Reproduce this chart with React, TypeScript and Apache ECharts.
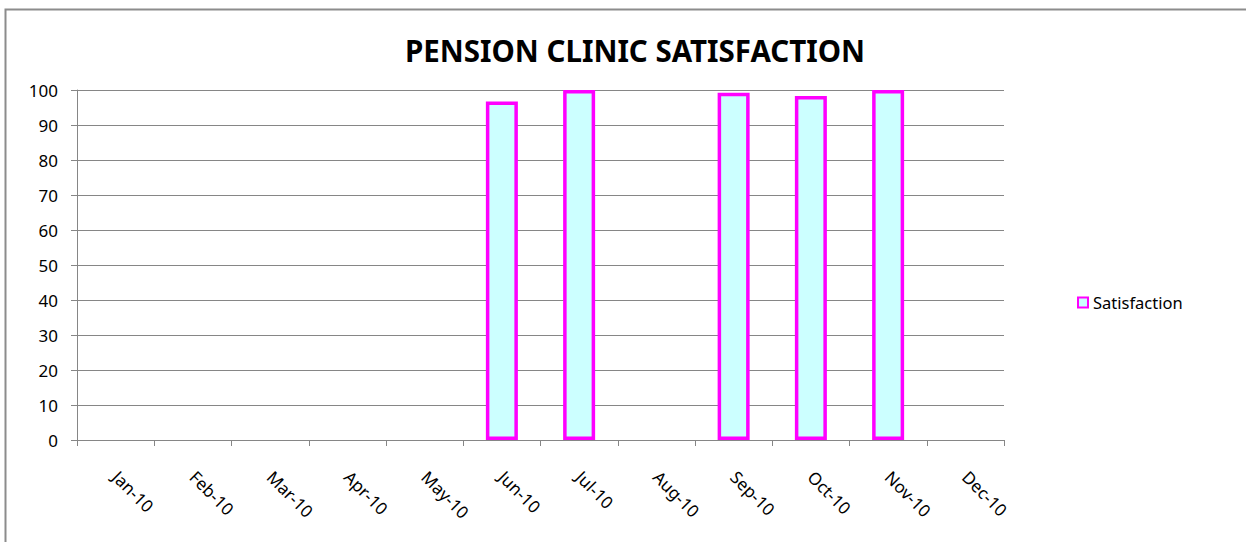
import React, { useEffect, useRef } from "react";
import * as echarts from "echarts";

const months = [
  "Jan-10", "Feb-10", "Mar-10", "Apr-10", "May-10", "Jun-10",
  "Jul-10", "Aug-10", "Sep-10", "Oct-10", "Nov-10", "Dec-10",
];
// Satisfaction score per month; months without a survey are null
const satisfaction: (number | null)[] = [
  null, null, null, null, null, 96.7, 100, null, 99.2, 98.3, 100, null,
];

const FONT = "'Noto Sans', sans-serif";
const GRID_GREY = "#868686";

export default function App() {
  const ref = useRef<HTMLDivElement>(null);

  useEffect(() => {
    document.body.style.margin = "0";
    const chart = echarts.init(ref.current!, null, { renderer: "svg" });
    chart.setOption({
      animation: false,
      backgroundColor: "#ffffff",
      title: {
        text: "PENSION CLINIC SATISFACTION",
        left: 630,
        top: 30,
        textAlign: "center",
        textStyle: { fontFamily: FONT, fontSize: 29.5, fontWeight: "bold", color: "#000" },
      },
      graphic: [
        {
          type: "rect",
          shape: { x: 5.5, y: 9.5, width: 1300, height: 700 },
          style: { fill: "none", stroke: "#8c8c8c", lineWidth: 2 },
          silent: true,
        },
      ],
      legend: {
        left: 1072,
        top: 289,
        icon: "rect",
        itemWidth: 10,
        itemHeight: 10,
        itemGap: 4,
        textStyle: { fontFamily: FONT, fontSize: 16.5, color: "#000" },
        data: ["Satisfaction"],
      },
      grid: { left: 77, right: 242, top: 90, bottom: 102, containLabel: false },
      xAxis: {
        type: "category",
        data: months,
        axisLine: { show: true, lineStyle: { color: GRID_GREY, width: 1 } },
        axisTick: { show: true, alignWithLabel: false, length: 6, lineStyle: { color: GRID_GREY } },
        axisLabel: {
          interval: 0,
          rotate: -45,
          margin: 34,
          fontFamily: FONT,
          fontSize: 17,
          color: "#000",
        },
        splitLine: { show: false },
      },
      yAxis: {
        type: "value",
        min: 0,
        max: 100,
        interval: 10,
        axisLine: { show: true, lineStyle: { color: GRID_GREY, width: 1 } },
        axisTick: { show: true, length: 6, lineStyle: { color: GRID_GREY } },
        axisLabel: { fontFamily: FONT, fontSize: 17, color: "#000", margin: 19 },
        splitLine: { show: true, lineStyle: { color: GRID_GREY, width: 1 } },
      },
      series: [
        {
          name: "Satisfaction",
          type: "bar",
          data: satisfaction,
          barWidth: 32,
          itemStyle: { color: "#ccffff", borderColor: "#ff00ff", borderWidth: 3.5 },
        },
      ],
    });
    return () => chart.dispose();
  }, []);

  return <div ref={ref} style={{ width: 1246, height: 542 }} />;
}
